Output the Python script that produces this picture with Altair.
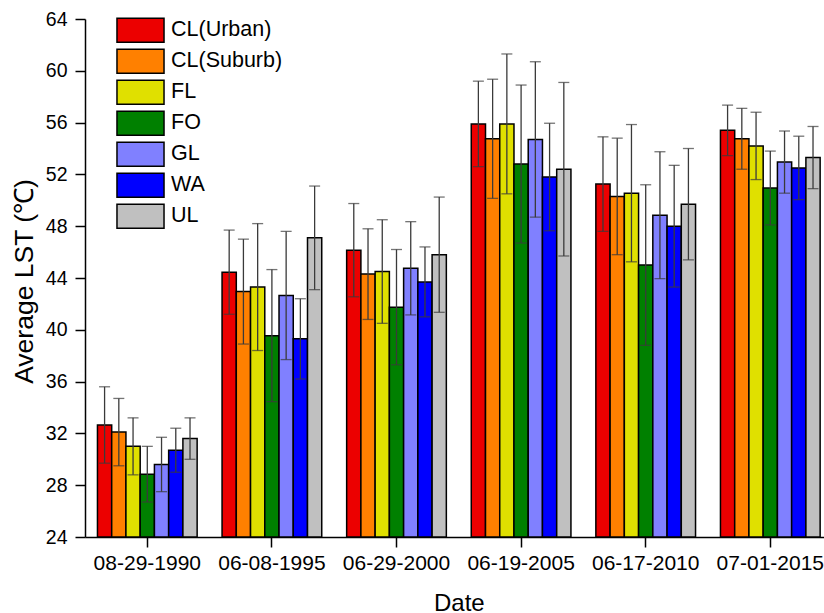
import altair as alt
import pandas as pd

dates = ["08-29-1990", "06-08-1995", "06-29-2000", "06-19-2005", "06-17-2010", "07-01-2015"]
classes = ["CL(Urban)", "CL(Suburb)", "FL", "FO", "GL", "WA", "UL"]
colors = ["#EC0000", "#FF8000", "#E0E000", "#008000", "#8080FF", "#0000FF", "#C0C0C0"]

means = {
    "CL(Urban)":  [32.65, 44.45, 46.15, 55.90, 51.25, 55.40],
    "CL(Suburb)": [32.10, 42.95, 44.30, 54.75, 50.30, 54.75],
    "FL":         [31.00, 43.30, 44.50, 55.90, 50.55, 54.20],
    "FO":         [28.85, 39.55, 41.75, 52.80, 45.00, 50.95],
    "GL":         [29.60, 42.65, 44.75, 54.70, 48.85, 52.95],
    "WA":         [30.70, 39.30, 43.70, 51.80, 48.00, 52.50],
    "UL":         [31.60, 47.10, 45.80, 52.40, 49.70, 53.30],
}
errors = {
    "CL(Urban)":  [2.95, 3.25, 3.60, 3.30, 3.65, 1.95],
    "CL(Suburb)": [2.60, 4.05, 3.50, 4.60, 4.50, 2.35],
    "FL":         [2.20, 4.90, 4.00, 5.40, 5.30, 2.60],
    "FO":         [2.15, 5.10, 4.45, 6.10, 6.20, 2.85],
    "GL":         [2.10, 4.95, 3.60, 6.00, 4.90, 2.40],
    "WA":         [1.70, 3.10, 2.70, 4.15, 4.70, 2.45],
    "UL":         [1.60, 4.00, 4.45, 6.70, 4.30, 2.40],
}
y_ticks = [24, 28, 32, 36, 40, 44, 48, 52, 56, 60, 64]
y_min, y_max = 24, 64

rows = []
for c in classes:
    for i, d in enumerate(dates):
        rows.append({"Date": d, "Class": c, "LST": means[c][i], "SD": errors[c][i]})
df = pd.DataFrame(rows)

FONT = "Liberation Sans"

x_enc = alt.X("Date:N", sort=dates,
              scale=alt.Scale(range=[0, 747.6], paddingInner=0.2, paddingOuter=0.1),
              axis=alt.Axis(title="Date", labelAngle=0, labelFontSize=21, labelPadding=5,
                            tickSize=10, tickWidth=1.5, tickColor="black",
                            domainColor="black", domainWidth=1.5,
                            titleFontSize=24, titleFontWeight="normal",
                            titleBaseline="alphabetic", titleY=73.5,
                            labelColor="black", titleColor="black"))
xoff = alt.XOffset("Class:N", sort=classes, scale=alt.Scale(paddingInner=0, paddingOuter=0))
y_scale = alt.Scale(domain=[y_min, y_max], zero=False, nice=False)

base = alt.Chart(df).transform_calculate(
    lo="datum.LST - datum.SD", hi="datum.LST + datum.SD"
)

legend_shape = "M-1.96,-1H1.96V1H-1.96Z"

bars = base.mark_bar(stroke="black", strokeWidth=1.5).encode(
    x=x_enc,
    xOffset=xoff,
    y=alt.Y("LST:Q", scale=y_scale,
            axis=alt.Axis(title="Average LST (℃)", values=y_ticks, labelFontSize=19.5,
                          labelPadding=8, tickSize=10, tickWidth=1.5, tickColor="black",
                          domainColor="black", domainWidth=1.5, grid=False,
                          titleFontSize=26.5, titleFontWeight="normal",
                          titleBaseline="alphabetic", titleX=-52.5, titleY=262,
                          titleAlign="center", labelColor="black", titleColor="black")),
    y2=alt.datum(y_min),
    fill=alt.Fill("Class:N", sort=classes,
                  scale=alt.Scale(domain=classes, range=colors),
                  legend=alt.Legend(title=None, orient="none", legendX=42.5, legendY=-1.7,
                                    symbolType=legend_shape, symbolSize=576,
                                    symbolStrokeColor="black", symbolStrokeWidth=1.5,
                                    symbolOpacity=1, labelFontSize=21.5, labelOffset=17.5,
                                    rowPadding=1, padding=0, labelColor="black",
                                    labelFont=FONT)),
)

err = base.mark_rule(color="#3a3a3a", strokeWidth=1.3).encode(
    x=x_enc, xOffset=xoff,
    y=alt.Y("lo:Q", scale=y_scale), y2="hi:Q",
)
cap_lo = base.mark_tick(color="#3a3a3a", thickness=1.3, size=11).encode(
    x=x_enc, xOffset=xoff, y=alt.Y("lo:Q", scale=y_scale),
)
cap_hi = base.mark_tick(color="#3a3a3a", thickness=1.3, size=11).encode(
    x=x_enc, xOffset=xoff, y=alt.Y("hi:Q", scale=y_scale),
)

chart = alt.layer(bars, err, cap_lo, cap_hi).properties(
    width=739, height=518,
    autosize=alt.AutoSizeParams(type="none"),
    padding={"left": 85, "top": 19, "right": 0, "bottom": 76},
    background="white",
).configure_view(stroke=None).configure_axis(
    labelFont=FONT, titleFont=FONT, grid=False
).configure_legend(labelFont=FONT)

chart.save("out.html", embed_options={"renderer": "svg", "actions": False})
